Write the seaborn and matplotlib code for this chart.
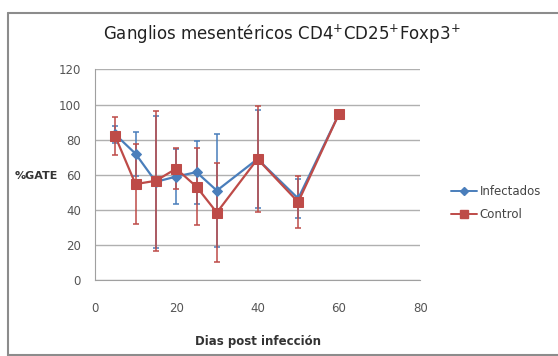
import matplotlib
matplotlib.use("Agg")
import matplotlib.pyplot as plt
import seaborn as sns
import pandas as pd
from matplotlib.lines import Line2D

days = [5, 10, 15, 20, 25, 30, 40, 50, 60]
infectados = [83, 72, 56, 59, 61.5, 51, 69, 46.5, 94.5]
infectados_err = [5, 12.5, 37.5, 15.5, 18, 32, 28, 11, 0]
control = [82, 54.7, 56.6, 63.5, 53.2, 38.5, 69, 44.5, 94.5]
control_err = [11, 23, 40, 11.5, 22, 28, 30, 15, 0]
series = ["Infectados", "Control"]
x_ticks = [0, 20, 40, 60, 80]
y_ticks = [0, 20, 40, 60, 80, 100, 120]

blue = "#4A7EBB"
red = "#BE4B48"

df = pd.concat([
    pd.DataFrame({"dias": days, "val": infectados, "err": infectados_err, "serie": series[0]}),
    pd.DataFrame({"dias": days, "val": control, "err": control_err, "serie": series[1]}),
])

sns.set_style("white")
fig = plt.figure(figsize=(5.58, 3.56), dpi=100)
ax = fig.add_axes([0.170, 0.213, 0.583, 0.592])

# error bars
for name, col in zip(series, [blue, red]):
    d = df[df.serie == name]
    ax.errorbar(d.dias, d.val, yerr=d.err, fmt="none", ecolor=col,
                elinewidth=1.3, capsize=2.5, capthick=1.3, alpha=0.85, zorder=2)

sns.lineplot(data=df, x="dias", y="val", hue="serie", style="serie",
             palette={series[0]: blue, series[1]: red},
             markers={series[0]: "D", series[1]: "s"}, dashes=False,
             markersize=6, linewidth=1.6, ax=ax, legend=False, zorder=3)
for ln, col, ms in zip(ax.lines[-2:], [blue, red], [5, 7]):
    ln.set_markeredgecolor(col)
    ln.set_markersize(ms)

ax.set_xlim(0, 80)
ax.set_ylim(0, 120)
ax.set_xticks(x_ticks)
ax.set_yticks(y_ticks)
ax.yaxis.grid(True, color="#B0B0B0", linewidth=1)
ax.set_axisbelow(True)
for s in ["top", "right"]:
    ax.spines[s].set_visible(False)
for s in ["left", "bottom"]:
    ax.spines[s].set_color("#A0A0A0")
ax.tick_params(axis="both", direction="out", length=4, color="#A0A0A0",
               labelsize=8.5, labelcolor="#555555")
ax.tick_params(axis="x", pad=12)
ax.tick_params(axis="y", pad=6)

ax.set_xlabel("Dias post infección", fontsize=8.5, fontweight="bold", color="#333333", labelpad=14)
ax.set_ylabel("")
fig.text(0.027, 0.505, "%GATE", fontsize=8, fontweight="bold", color="#333333", va="center")

fig.text(0.505, 0.905, "Ganglios mesentéricos CD4$^{+}$CD25$^{+}$Foxp3$^{+}$",
         fontsize=12, ha="center", va="center", color="#222222")

handles = [Line2D([0], [0], color=blue, marker="D", markersize=4, lw=1.4),
           Line2D([0], [0], color=red, marker="s", markersize=6, lw=1.4)]
fig.legend(handles, series, loc="center left", bbox_to_anchor=(0.79, 0.43),
           frameon=False, fontsize=8.5, handlelength=2.2, handletextpad=0.2,
           labelcolor="#444444", labelspacing=0.8)

# outer chart border
for xs, ys in [([0.015, 0.015], [0.0, 0.963]), ([0.015, 1.0], [0.963, 0.963]), ([0.015, 1.0], [0.004, 0.004])]:
    fig.add_artist(Line2D(xs, ys, color="#8C8C8C", lw=1.5, transform=fig.transFigure))

fig.savefig("out.png", dpi=100)
